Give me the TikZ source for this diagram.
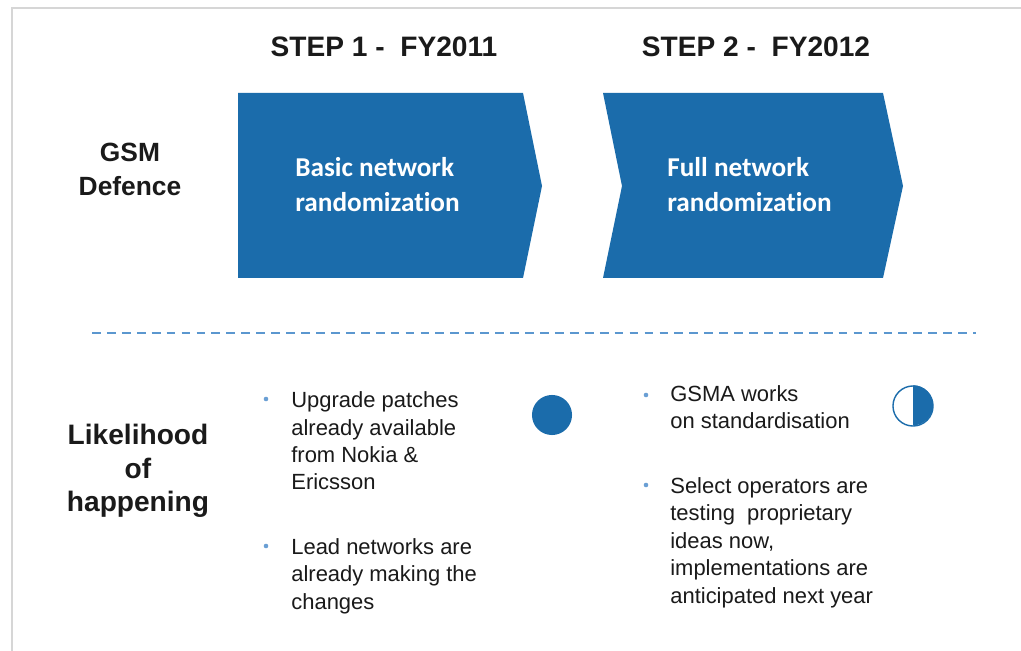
\documentclass[tikz,border=0pt]{standalone}
\usepackage{fontspec}
\setmainfont{Liberation Sans}
\newfontfamily\calibrifont[Ligatures=NoCommon]{Carlito}
\usetikzlibrary{positioning}
\definecolor{stepblue}{HTML}{1B6CAB}
\definecolor{dotblue}{HTML}{6A9FD4}
\definecolor{dashblue}{HTML}{5B97CF}
\definecolor{framegrey}{HTML}{D6D6D6}
\definecolor{textblack}{HTML}{1A1A1A}
\tikzset{
  every picture/.style={x=0.02cm, y=-0.02cm},
  heading/.style={font=\bfseries\fontsize{16}{19}\selectfont, text=textblack, anchor=base},
  rowlabel/.style={font=\bfseries\fontsize{15}{19.5}\selectfont, text=textblack, align=center, anchor=base, inner sep=0pt},
  chevtext/.style={font=\calibrifont\bfseries\fontsize{15.5}{20}\selectfont, text=white, align=left, anchor=base west, inner sep=0pt},
  bullettext/.style={font=\fontsize{12.5}{15.6}\selectfont, text=textblack, align=left, anchor=base west, inner sep=0pt},
  bulletdot/.style={circle, fill=dotblue, inner sep=0pt, minimum size=2.6pt},
  ball/.style={circle, inner sep=0pt, minimum size=22.8pt, line width=0.8pt},
}

\begin{document}
\begin{tikzpicture}
  \useasboundingbox (0,0) rectangle (1021,651);
  \fill[white] (0,0) rectangle (1021,651);
  % faint frame of the slide
  \draw[framegrey, line width=0.6pt] (12,651) |- (1021,8);

  % step headings
  \node[heading] (step1) at (384,57) {STEP 1 -~ FY2011};
  \node[heading] (step2) at (756,57) {STEP 2 -~ FY2012};

  % chevrons (text anchored at the last baseline)
  \fill[stepblue] (238,93) -- (523,93) -- (542,186) -- (523,278) -- (238,278) -- cycle;
  \fill[stepblue] (603,93) -- (883,93) -- (903,186) -- (883,278) -- (603,278) -- (622,186) -- cycle;
  \node[chevtext] (basic) at (295,212) {Basic network\\randomization};
  \node[chevtext] (full) at (667,212) {Full network\\randomization};

  % row labels
  \node[rowlabel] (gsm) at (130,196) {GSM\\Defence};
  \node[rowlabel, font=\bfseries\fontsize{16}{19.3}\selectfont] (likely) at (138,512) {Likelihood\\of\\happening};

  % divider
  \draw[dashblue, line width=1.6pt, dash pattern=on 5pt off 3.5pt] (92,333) -- (976,333);

  % step 1 likelihood
  \node[bulletdot] (dot1) at (266,399) {};
  \node[bullettext] (upgrade) at (291,490) {Upgrade patches\\already available\\from Nokia \&\\Ericsson};
  \node[bulletdot] (dot2) at (266,546) {};
  \node[bullettext] (lead) at (291,609) {Lead networks are\\already making the\\changes};
  \node[ball, fill=stepblue] (full1) at (552,415) {};

  % step 2 likelihood
  \node[bulletdot] (dot3) at (646,395) {};
  \node[bullettext] (gsma) at (670,429) {GSMA works\\on standardisation};
  \node[bulletdot] (dot4) at (646,485) {};
  \node[bullettext] (select) at (670,603) {Select operators are\\testing~ proprietary\\ideas now,\\implementations are\\anticipated next year};
  \node[ball, draw=stepblue, fill=white] (half2) at (913,406) {};
  \fill[stepblue] (half2.north) arc[start angle=90, end angle=-90, radius=11.4pt] -- cycle;
\end{tikzpicture}
\end{document}
